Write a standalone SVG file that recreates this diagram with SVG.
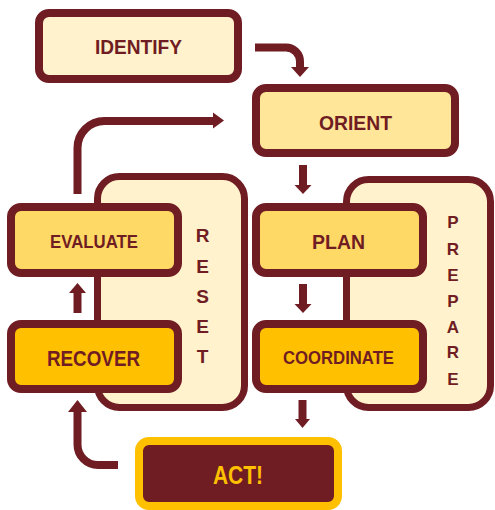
<svg xmlns="http://www.w3.org/2000/svg" width="495" height="510" viewBox="0 0 495 510">
<style>
.box{stroke:#6F1D23;stroke-width:8}
.panel{fill:#FFF2CC;stroke:#6F1D23;stroke-width:7}
.t{font-family:"Liberation Sans",Arial,sans-serif;font-weight:bold;fill:#6F1D23;text-anchor:middle}
.ln{fill:none;stroke:#6F1D23;stroke-width:8}
.hd{fill:#6F1D23}
</style>
<rect width="495" height="510" fill="#FFFFFF"/>
<g id="reset">
<rect class="panel" x="97.5" y="176.5" width="147" height="231" rx="22"/>
<g class="t" font-size="19">
<text x="202.5" y="242">R</text>
<text x="202.5" y="273">E</text>
<text x="202.5" y="303">S</text>
<text x="202.5" y="333">E</text>
<text x="202.5" y="363">T</text>
</g>
</g>
<g id="prepare">
<rect class="panel" x="346.5" y="179.5" width="144" height="228" rx="22"/>
<g class="t" font-size="17">
<text x="453" y="228">P</text>
<text x="453" y="255">R</text>
<text x="453" y="281">E</text>
<text x="453" y="307">P</text>
<text x="453" y="333">A</text>
<text x="453" y="358">R</text>
<text x="453" y="385">E</text>
</g>
</g>
<g id="identify">
<rect class="box" x="39" y="13" width="199" height="66" rx="10" fill="#FFF2CC"/>
<text class="t" x="138.5" y="54" font-size="21" textLength="87" lengthAdjust="spacingAndGlyphs">IDENTIFY</text>
</g>
<g id="orient">
<rect class="box" x="256" y="88" width="199" height="65" rx="10" fill="#FFE699"/>
<text class="t" x="355.5" y="130" font-size="21" textLength="73" lengthAdjust="spacingAndGlyphs">ORIENT</text>
</g>
<g id="evaluate">
<rect class="box" x="11" y="207" width="167" height="66" rx="10" fill="#FFD966"/>
<text class="t" x="94" y="248" font-size="19" textLength="88" lengthAdjust="spacingAndGlyphs">EVALUATE</text>
</g>
<g id="recover">
<rect class="box" x="11" y="324" width="167" height="65" rx="10" fill="#FFC000"/>
<text class="t" x="93.5" y="366" font-size="22" textLength="93" lengthAdjust="spacingAndGlyphs">RECOVER</text>
</g>
<g id="plan">
<rect class="box" x="256" y="207" width="167" height="66" rx="10" fill="#FFD966"/>
<text class="t" x="338.5" y="249" font-size="21" textLength="53" lengthAdjust="spacingAndGlyphs">PLAN</text>
</g>
<g id="coordinate">
<rect class="box" x="256" y="324" width="167" height="65" rx="10" fill="#FFC000"/>
<text class="t" x="338.5" y="364" font-size="18" textLength="111" lengthAdjust="spacingAndGlyphs">COORDINATE</text>
</g>
<g id="act">
<rect x="139" y="441" width="199" height="65" rx="10" fill="#6F1D23" stroke="#FFC000" stroke-width="8"/>
<text class="t" x="238" y="484" font-size="26" textLength="50" lengthAdjust="spacingAndGlyphs" style="fill:#FFC000">ACT!</text>
</g>
<g id="connectors">
<path class="ln" d="M255,47.5 H286 A14,14 0 0 1 300,61.5 V68"/>
<polygon class="hd" points="291,67 309,67 300,77"/>
<path class="ln" d="M303,165 V186"/>
<polygon class="hd" points="294.5,185 311.5,185 303,194"/>
<path class="ln" d="M303,284 V305"/>
<polygon class="hd" points="294.5,304 311.5,304 303,313"/>
<path class="ln" d="M302.5,400 V420"/>
<polygon class="hd" points="295,419 310,419 302.5,428"/>
<path class="ln" d="M77.5,313 V292"/>
<polygon class="hd" points="69,293 86,293 77.5,283"/>
<path class="ln" d="M77.5,194 V148 A27,27 0 0 1 104.5,121 H214"/>
<polygon class="hd" points="213,112.5 213,128.5 224,120.5"/>
<path class="ln" d="M118,465 H98 A20.5,20.5 0 0 1 77.5,444.5 V411"/>
<polygon class="hd" points="68,412 87,412 77.5,400"/>
</g>
</svg>
